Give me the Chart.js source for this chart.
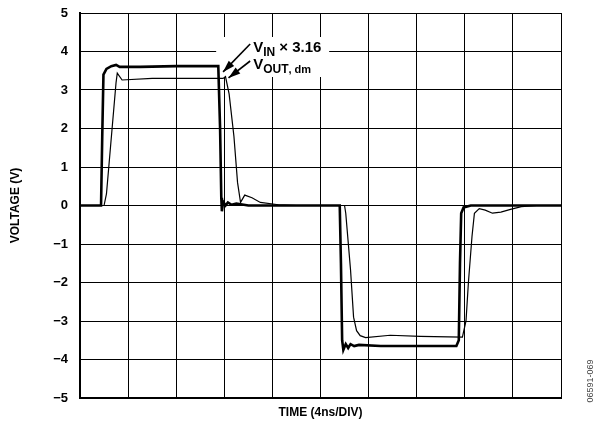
<!DOCTYPE html>
<html>
<head>
<meta charset="utf-8">
<script src="https://cdn.jsdelivr.net/npm/chart.js@4"></script>
<style>
  html, body { margin: 0; padding: 0; background: #fff; }
  #wrap { width: 602px; height: 427px; }
</style>
</head>
<body>
<div id="wrap"><canvas id="myChart" width="602" height="427"></canvas></div>
<script>
// time in ns (4ns/div, 10 divisions), voltage in V
var vinTime = [0, 1.75, 1.85, 1.95, 2.2, 2.6, 3.0, 3.3, 5, 8, 11.5, 11.65, 11.75, 11.8, 11.9, 12.1, 12.3, 12.6, 13, 14,
               21.6, 21.7, 21.8, 21.9, 22.1, 22.3, 22.5, 22.8, 23.2, 25, 31.3, 31.5, 31.6, 31.7, 31.9, 32.5, 40];
var vinVolt = [0, 0, 1.8, 3.4, 3.55, 3.62, 3.65, 3.6, 3.6, 3.62, 3.62, 2.0, 0.2, -0.15, 0.1, 0.0, 0.08, 0.02, 0.05, 0,
               0, -1.5, -3.5, -3.75, -3.6, -3.7, -3.6, -3.65, -3.62, -3.65, -3.65, -3.5, -1.5, -0.2, -0.05, 0, 0];

var voutTime = [0, 2.0, 2.2, 3.0, 3.1, 3.5, 6, 11.9, 12.1, 12.4, 12.8, 13.1, 13.35, 13.7, 14.3, 15, 16.5, 18,
                22.0, 22.1, 22.5, 22.75, 23.0, 23.3, 23.75, 25.8, 28.3, 31.8, 32.1, 32.3, 32.6, 32.8, 33.2, 33.7, 34.3, 35, 35.8, 36.7, 38, 40];
var voutVolt = [0, 0, 0.3, 3.2, 3.44, 3.26, 3.3, 3.3, 3.35, 2.9, 1.8, 0.6, 0.08, 0.27, 0.2, 0.08, 0.02, 0,
                0, -0.2, -1.68, -2.9, -3.25, -3.38, -3.43, -3.37, -3.4, -3.42, -3.0, -2.0, -0.8, -0.2, -0.08, -0.12, -0.2, -0.17, -0.1, -0.03, 0, 0];

var yTicks = [5, 4, 3, 2, 1, 0, -1, -2, -3, -4, -5];
var xTitle = 'TIME (4ns/DIV)';
var yTitle = 'VOLTAGE (V)';
var figCode = '06591-069';

function pts(xs, ys) {
    return xs.map(function (x, i) { return { x: x, y: ys[i] }; });
}

var FONT = '"Liberation Sans", Arial, sans-serif';

function labelPos(chart) {
    var xs = chart.scales.x, ys = chart.scales.y;
    return { x: xs.getPixelForValue(14.4), y: ys.getPixelForValue(4.0) + 0.5 };
}

// labels, arrows and axis titles
var decorPlugin = {
    id: 'decor',
    beforeDatasetsDraw: function (chart) {
        // white box behind labels (hides grid, not traces)
        var c = chart.ctx, p = labelPos(chart);
        c.save();
        c.fillStyle = '#fff';
        c.fillRect(p.x - 37, p.y - 15, 113, 40);
        c.restore();
    },
    afterDraw: function (chart) {
        var c = chart.ctx;
        var xs = chart.scales.x, ys = chart.scales.y;
        var area = chart.chartArea;
        var p = labelPos(chart);
        var lx = p.x, ly1 = p.y;
        c.save();

        c.fillStyle = '#000';
        c.textBaseline = 'alphabetic';
        c.textAlign = 'left';
        // V_IN x 3.16
        c.font = 'bold 15px ' + FONT;
        c.fillText('V', lx, ly1);
        var w = c.measureText('V').width;
        c.font = 'bold 12px ' + FONT;
        c.fillText('IN', lx + w, ly1 + 4);
        var w2 = c.measureText('IN').width;
        c.font = 'bold 15px ' + FONT;
        c.fillText(' × 3.16', lx + w + w2, ly1);
        // V_OUT, dm
        var ly2 = ly1 + 17;
        c.fillText('V', lx, ly2);
        c.font = 'bold 12px ' + FONT;
        c.fillText('OUT', lx + w, ly2 + 4);
        var w3 = c.measureText('OUT').width;
        c.font = 'bold 11px ' + FONT;
        c.fillText(', dm', lx + w + w3, ly2 + 4);

        // arrows
        function arrow(x0, y0, x1, y1) {
            c.strokeStyle = '#000';
            c.lineWidth = 1.6;
            c.beginPath();
            c.moveTo(x0, y0);
            c.lineTo(x1, y1);
            c.stroke();
            var a = Math.atan2(y1 - y0, x1 - x0);
            var L = 12, H = 3.8;
            c.beginPath();
            c.moveTo(x1, y1);
            c.lineTo(x1 - L * Math.cos(a) + H * Math.sin(a), y1 - L * Math.sin(a) - H * Math.cos(a));
            c.lineTo(x1 - L * Math.cos(a) - H * Math.sin(a), y1 - L * Math.sin(a) + H * Math.cos(a));
            c.closePath();
            c.fill();
        }
        arrow(lx - 3, ly1 - 8, xs.getPixelForValue(11.9), ys.getPixelForValue(3.6) + 5);
        arrow(lx - 3, ly2 - 8, xs.getPixelForValue(12.35), ys.getPixelForValue(3.3) - 0.5);

        // axis titles
        c.font = 'bold 12px ' + FONT;
        c.textAlign = 'center';
        c.textBaseline = 'middle';
        c.fillText(xTitle, (area.left + area.right) / 2, 413);
        c.save();
        c.translate(16, (area.top + area.bottom) / 2);
        c.rotate(-Math.PI / 2);
        c.fillText(yTitle, 0, 0);
        c.restore();

        c.save();
        c.font = '9px ' + FONT;
        c.fillStyle = '#444';
        c.translate(591, 381);
        c.rotate(-Math.PI / 2);
        c.fillText(figCode, 0, 0);
        c.restore();

        c.restore();
    }
};

var ctx = document.getElementById('myChart').getContext('2d');
var chart = new Chart(ctx, {
    type: 'line',
    data: {
        datasets: [
            {
                label: 'VIN x 3.16',
                data: pts(vinTime, vinVolt),
                borderColor: '#000',
                borderWidth: 2.6,
                pointRadius: 0,
                tension: 0
            },
            {
                label: 'VOUT, dm',
                data: pts(voutTime, voutVolt),
                borderColor: '#000',
                borderWidth: 1.2,
                pointRadius: 0,
                tension: 0
            }
        ]
    },
    options: {
        responsive: false,
        animation: false,
        layout: { padding: { top: 13, right: 41, left: 0, bottom: 0 } },
        plugins: {
            legend: { display: false },
            tooltip: { enabled: false }
        },
        scales: {
            x: {
                type: 'linear',
                min: 0,
                max: 40,
                ticks: { display: false, stepSize: 4 },
                grid: { color: '#000', lineWidth: 1, drawTicks: false },
                border: { color: '#000', width: 2 },
                afterFit: function (s) { s.height = 29; s.paddingLeft = 0; s.paddingRight = 0; }
            },
            y: {
                min: -5,
                max: 5,
                afterBuildTicks: function (s) {
                    s.ticks = yTicks.map(function (v) { return { value: v }; });
                },
                ticks: {
                    padding: 12,
                    color: '#000',
                    font: { family: FONT, size: 13, weight: 'bold' },
                    callback: function (v) { return v < 0 ? '\u2212' + Math.abs(v) : String(v); }
                },
                grid: { color: '#000', lineWidth: 1, drawTicks: false },
                border: { color: '#000', width: 2 },
                afterFit: function (s) { s.width = 80; s.paddingTop = 0; s.paddingBottom = 0; }
            }
        }
    },
    plugins: [decorPlugin]
});
</script>
</body>
</html>
